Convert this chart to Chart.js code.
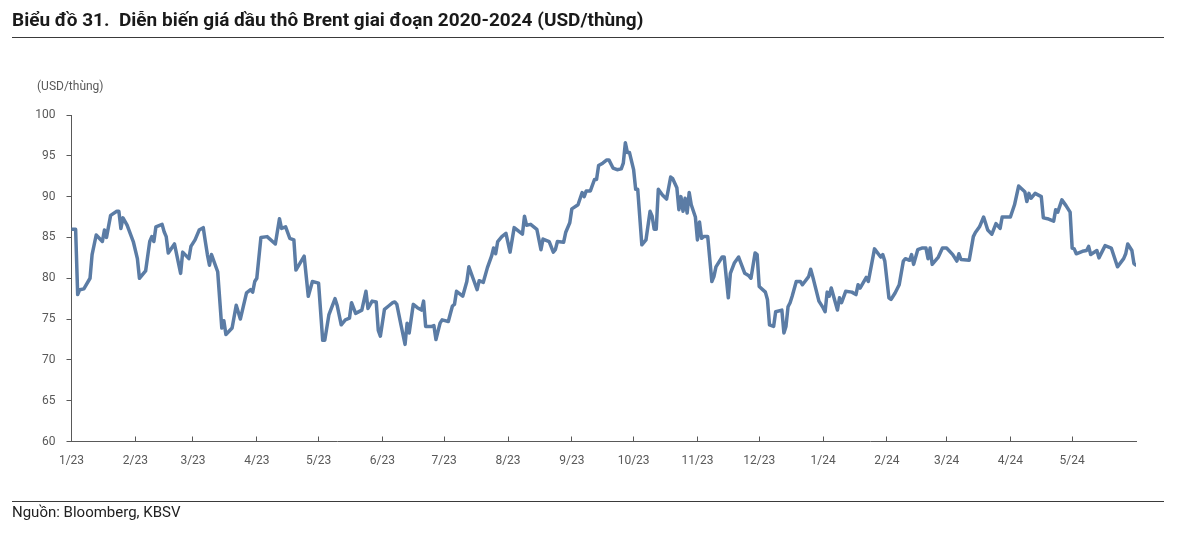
<!DOCTYPE html>
<html><head><meta charset="utf-8">
<script src="https://cdn.jsdelivr.net/npm/chart.js@4.4.1/dist/chart.umd.min.js"></script>
<style>
html,body{margin:0;padding:0;background:#fff;width:1200px;height:540px;overflow:hidden;}
#wrap{position:relative;width:1200px;height:540px;}
#title{position:absolute;left:12px;top:8px;font:700 19px Roboto, sans-serif;color:#1a1a1a;white-space:pre;}
.rule{position:absolute;left:12px;width:1152px;height:1px;background:#3a3a3a;}
#unit{position:absolute;left:37px;top:79px;font:12px Roboto, sans-serif;color:#595959;}
#src{position:absolute;left:12px;top:503px;font:15px Roboto, sans-serif;color:#222;}
canvas{position:absolute;left:0;top:0;}
</style></head>
<body><div id="wrap">
<canvas id="c" width="1200" height="540"></canvas>
<div id="title">Biểu đồ 31.  Diễn biến giá dầu thô Brent giai đoạn 2020-2024 (USD/thùng)</div>
<div class="rule" style="top:37px"></div>
<div id="unit">(USD/thùng)</div>
<div class="rule" style="top:501px"></div>
<div id="src">Nguồn: Bloomberg, KBSV</div>
</div>
<script>
// days since 1 Jan 2023 at each month start, with their labels
const monthStartDays = [0,31,59,90,120,151,181,212,243,273,304,334,365,396,425,456,486];
const monthLabels = ['1/23','2/23','3/23','4/23','5/23','6/23','7/23','8/23','9/23','10/23','11/23','12/23','1/24','2/24','3/24','4/24','5/24'];
// observation day (days since 1 Jan 2023)
const dayIndex = [0,2,3,4,6,9,10,12,15,16,17,19,22,23,24,25,27,30,32,33,36,38,39,40,41,44,45,46,47,50,53,54,57,58,60,62,64,65,66,67,68,71,73,74,75,78,80,82,85,87,88,89,90,92,95,99,101,102,104,106,108,109,113,115,117,120,122,123,125,128,
129,131,133,135,136,138,141,143,144,146,148,149,150,152,154,156,157,158,160,162,163,164,166,168,170,171,172,175,176,177,179,180,183,185,186,187,190,192,193,195,197,198,200,202,204,205,206,207,209,211,213,215,219,220,221,223,226,228,229,232,234,235,236,239,
240,242,243,246,248,249,250,252,254,255,256,258,260,261,263,265,267,268,269,270,271,273,274,275,277,279,281,282,283,284,285,287,289,291,292,294,295,296,297,298,299,300,301,303,304,305,306,307,309,311,312,313,316,317,319,320,322,324,327,329,330,332,333,334,337,338,339,341,342,345,346,347,348,349,350,352,354,355,358,359,360,363,365,366,367,
368,369,372,373,374,376,379,381,382,383,386,387,390,393,394,395,397,398,400,402,404,405,407,408,409,411,413,415,416,417,418,421,423,425,428,430,431,432,436,438,439,441,443,445,447,449,451,452,456,458,460,463,464,465,466,468,471,472,474,477,478,479,481,483,485,486,487,488,491,493,494,495,498,499,502,505,508,511,512,513,515,516,517];
// Brent price, USD/barrel
const brentPrice = [86.0,86.0,78.0,78.6,78.7,80.0,82.9,85.3,84.5,85.9,85.0,87.7,88.2,88.2,86.1,87.4,86.5,84.5,82.4,80.0,80.9,84.5,85.1,84.5,86.3,86.6,85.7,85.1,83.1,84.2,80.6,83.2,82.4,83.9,84.7,85.9,86.2,84.5,82.9,81.6,82.9,80.8,73.9,74.8,73.1,73.9,76.7,75.0,78.2,78.6,78.3,79.6,80.0,85.0,85.1,84.2,87.3,86.1,86.3,84.9,84.7,81.0,82.7,77.8,79.6,79.4,72.4,72.4,75.5,77.5,
76.7,74.3,74.9,75.1,77.0,75.7,76.1,78.4,76.3,77.2,77.1,73.6,72.9,76.2,76.6,77.0,77.1,76.8,74.3,71.9,74.5,73.3,76.8,76.4,76.1,77.2,74.1,74.1,74.2,72.5,74.5,74.9,74.7,76.6,76.8,78.4,77.8,79.6,81.4,80.0,78.6,79.7,79.5,81.3,82.7,83.7,83.0,84.5,85.1,85.5,83.2,86.2,85.4,87.6,86.5,86.6,86.0,83.5,84.8,84.5,83.2,83.5,84.5,84.4,
85.6,86.8,88.5,89.0,90.5,90.0,90.7,90.7,92.1,92.1,93.8,94.1,94.5,94.5,93.5,93.3,93.4,94.1,96.6,95.4,95.4,93.3,90.9,90.9,84.1,84.7,88.2,87.6,86.0,86.0,90.9,90.2,89.7,92.4,92.2,91.1,88.4,90.0,88.2,89.8,88.0,90.5,89.0,87.5,84.7,86.9,84.9,85.1,85.1,79.6,80.2,81.4,82.6,82.6,77.6,80.6,81.9,82.6,80.6,80.3,80.0,83.1,82.9,79.0,78.3,77.4,74.3,74.1,75.9,76.1,73.3,74.1,76.5,77.0,77.8,79.6,79.6,79.2,80.2,81.1,80.2,77.2,76.4,75.9,78.3,
77.8,78.8,76.1,77.6,77.0,78.4,78.3,78.0,79.2,78.8,80.1,79.6,83.6,82.6,82.9,82.1,77.6,77.4,78.2,79.2,82.1,82.4,82.2,82.9,81.7,83.5,83.7,83.7,82.4,83.7,81.7,82.6,83.7,83.7,82.9,82.1,83.0,82.3,82.2,85.1,85.6,86.3,87.5,85.9,85.4,86.7,86.1,87.5,87.5,89.0,91.3,90.6,89.4,90.4,89.8,90.4,90.0,87.4,87.3,87.0,88.4,88.1,89.6,88.9,88.1,83.7,83.6,83.0,83.3,83.4,83.9,82.9,83.4,82.5,84.0,83.7,81.4,82.4,83.0,84.2,83.4,81.8,81.6];
const yMin = 60, yMax = 100, yStep = 5;

const axisColor = '#595959';
const tickFont = {family:'Roboto', size:12};
new Chart(document.getElementById('c'), {
  type:'line',
  data:{datasets:[{
    data: dayIndex.map((d,i)=>({x:d, y:brentPrice[i]})),
    borderColor:'#5B7CA5', borderWidth:3.5, pointRadius:0, tension:0, fill:false,
    borderJoinStyle:'round', borderCapStyle:'round'
  }]},
  options:{
    responsive:false, animation:false, devicePixelRatio:1,
    layout:{padding:{left:0, top:115, right:64, bottom:68.5}},
    plugins:{legend:{display:false}, tooltip:{enabled:false}},
    scales:{
      x:{
        type:'linear', min:0, max:517,
        afterBuildTicks:s=>{ s.ticks = monthStartDays.map(v=>({value:v})); },
        afterFit:s=>{ s.height = 30; },
        ticks:{autoSkip:false, maxRotation:0, color:axisColor, font:tickFont, padding:17,
          callback:(v,i)=>monthLabels[i]},
        grid:{drawOnChartArea:false, drawTicks:true, tickLength:-5, color:axisColor},
        border:{color:axisColor, width:1}
      },
      y:{
        min:yMin, max:yMax,
        afterFit:s=>{ s.width = 71.5; },
        ticks:{stepSize:yStep, color:axisColor, font:tickFont, padding:11},
        grid:{drawOnChartArea:false, drawTicks:true, tickLength:5, color:axisColor},
        border:{color:axisColor, width:1}
      }
    }
  }
});
</script>
</body></html>
